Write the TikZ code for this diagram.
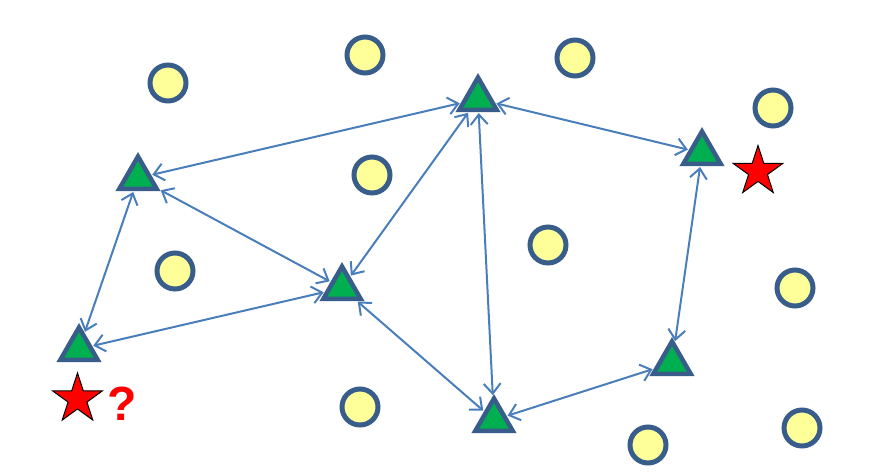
\documentclass[tikz,border=0pt]{standalone}
\usepackage{fontspec}
\setmainfont{Liberation Sans}
\usetikzlibrary{shapes.geometric,arrows.meta}
\definecolor{bord}{HTML}{385D8A}
\definecolor{yel}{HTML}{FFFF99}
\definecolor{grn}{HTML}{00B050}
\definecolor{arr}{HTML}{4A7EBB}
\begin{document}
\begin{tikzpicture}[x=1pt,y=-1pt,
  tri/.style={regular polygon,regular polygon sides=3,minimum size=43pt,inner sep=0pt,draw=bord,fill=grn,line width=4.5pt,line join=miter},
  dot/.style={circle,minimum size=36pt,inner sep=0pt,draw=bord,fill=yel,line width=5pt},
  redstar/.style={star,star points=5,star point ratio=2.618,minimum size=52pt,inner sep=0pt,draw=black,fill=red,line width=1pt},
  link/.style={draw=arr,line width=2pt,{Straight Barb[length=10pt,width=17pt,line width=2pt]}-{Straight Barb[length=10pt,width=17pt,line width=2pt]},shorten <=1pt,shorten >=1pt}]
\useasboundingbox (0,0) rectangle (888,474);
% circles
\node[dot] (c1) at (168,83) {};
\node[dot] (c2) at (365,55) {};
\node[dot] (c3) at (575,58) {};
\node[dot] (c4) at (773,108) {};
\node[dot] (c5) at (372,175) {};
\node[dot] (c6) at (548,245) {};
\node[dot] (c7) at (175,271) {};
\node[dot] (c8) at (795,288) {};
\node[dot] (c9) at (360,407) {};
\node[dot] (c10) at (648,445) {};
\node[dot] (c11) at (802,428) {};
% triangles
\node[tri] (t1) at (138,178) {};
\node[tri] (t2) at (79,349) {};
\node[tri] (t3) at (342,288) {};
\node[tri] (t4) at (478,99) {};
\node[tri] (t5) at (702,153) {};
\node[tri] (t6) at (494,420) {};
\node[tri] (t7) at (672,363) {};
% links
\draw[link] (t1) -- (t4);
\draw[link] (t1) -- (t3);
\draw[link] (t1) -- (t2);
\draw[link] (t2) -- (t3);
\draw[link] (t3) -- (t4);
\draw[link] (t4) -- (t5);
\draw[link] (t4) -- (t6);
\draw[link] (t3) -- (t6);
\draw[link] (t6) -- (t7);
\draw[link] (t7) -- (t5);
% stars
\node[redstar] (s1) at (77.5,399) {};
\node[redstar] (s2) at (758,171.5) {};
\node[text=red,font=\bfseries\fontsize{48}{48}\selectfont,inner sep=0pt] (q) at (122,404) {?};
\end{tikzpicture}
\end{document}
